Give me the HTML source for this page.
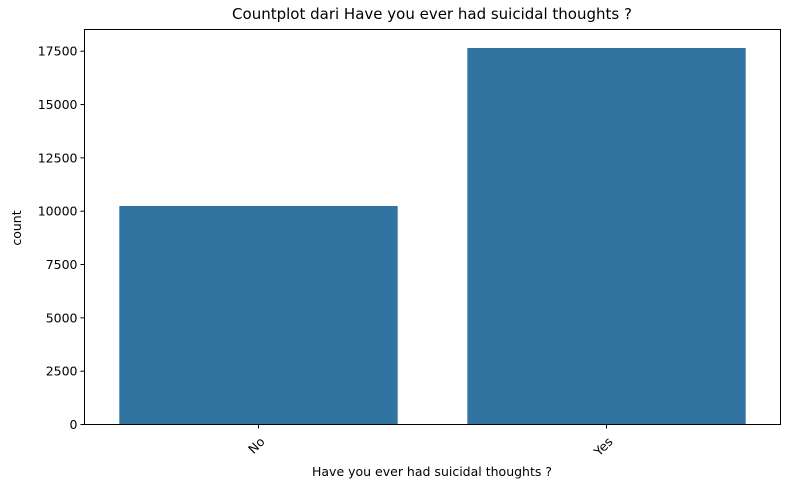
<!DOCTYPE html>
<html><head><meta charset="utf-8"><style>
body{margin:0;background:#fff}
text{font-family:"DejaVu Sans","Liberation Sans",sans-serif;fill:#000}
</style></head><body>
<svg id="chart" width="790" height="489">
<text x="432" y="19" font-size="15" text-anchor="middle">Countplot dari Have you ever had suicidal thoughts ?</text>
<text transform="translate(21,228) rotate(-90)" font-size="12.5" text-anchor="middle">count</text>
<text x="432" y="476" font-size="12.5" text-anchor="middle">Have you ever had suicidal thoughts ?</text>
<g id="bars"></g><g id="axes"></g>
</svg>
<script>
const categories = ["No", "Yes"];
const counts = [10243, 17650];
const yTicks = [0, 2500, 5000, 7500, 10000, 12500, 15000, 17500];
const L=84.5,R=780.5,T=29.5,B=424.5;
const ns="http://www.w3.org/2000/svg";
function y(v){return B - v/2500*53.33;}
function xc(i){return L + (R-L)*(i+0.5)/categories.length;}
const step=(R-L)/categories.length;
const bars=document.getElementById('bars'), axes=document.getElementById('axes');
function mk(t,a,p){const e=document.createElementNS(ns,t);for(const k in a)e.setAttribute(k,a[k]);p.appendChild(e);return e;}
counts.forEach((c,i)=>{
  const r=mk('rect',{x:xc(i)-step*0.4,y:y(c),width:step*0.8,height:B-y(c),fill:'#3274a1'},bars);
  
  
});
yTicks.forEach(v=>{
  const l=mk('line',{x1:L-4,x2:L,y1:y(v),y2:y(v),stroke:'#000','stroke-width':1},axes);
  
  
  const t=mk('text',{x:L-7,y:y(v)+4.5,'font-size':12.5,'text-anchor':'end'},axes);
  t.textContent=v;
  
  
});
categories.forEach((c,i)=>{
  const l=mk('line',{x1:xc(i),x2:xc(i),y1:B,y2:B+4,stroke:'#000','stroke-width':1},axes);
  
  
  const t=mk('text',{transform:`translate(${xc(i)+7},${B+18}) rotate(-45)`,'font-size':12.5,'text-anchor':'end'},axes);
  t.textContent=c;
  
  
});
const f=mk('rect',{x:L,y:T,width:R-L,height:B-T,fill:'none',stroke:'#000','stroke-width':1},axes);


</script>
</body></html>
